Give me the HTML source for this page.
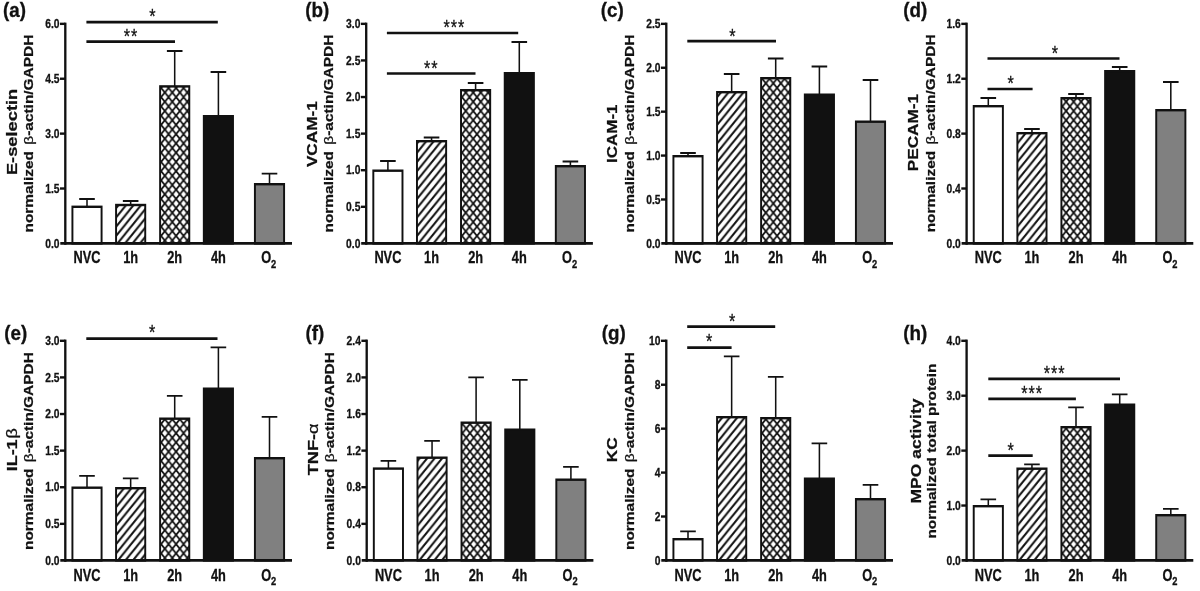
<!DOCTYPE html>
<html lang="en"><head><meta charset="utf-8"><title>Figure</title>
<style>html,body{margin:0;padding:0;background:#fff;overflow:hidden}svg{display:block;filter:blur(0.4px)}text{font-family:"Liberation Sans", sans-serif;font-weight:bold;fill:#111;stroke:#111;stroke-width:0.3px}.r{font-weight:normal}</style></head><body>
<svg width="1200" height="591" viewBox="0 0 1200 591">
<defs>
<pattern id="hatch" patternUnits="userSpaceOnUse" width="9.25" height="9.25"><rect width="9.25" height="9.25" fill="#fff"/><path d="M-2,11.25 L11.25,-2 M-2,2 L2,-2 M7.25,11.25 L11.25,7.25" stroke="#111" stroke-width="2.25" fill="none"/></pattern>
<pattern id="cross" patternUnits="userSpaceOnUse" width="9.25" height="9.25"><rect width="9.25" height="9.25" fill="#fff"/><path d="M-1,-1 L10.25,10.25 M-1,10.25 L10.25,-1" stroke="#111" stroke-width="2.0" fill="none"/></pattern>
</defs>
<rect width="1200" height="591" fill="#fff"/>
<text transform="translate(3,17.2) scale(0.97,1)" font-size="19.4">(a)</text>
<g transform="translate(0,0) scale(0.81,1)">
<text transform="translate(20.86,131.9) rotate(-90)" text-anchor="middle" font-size="18.3">E-selectin</text>
<text transform="translate(40.74,133.6) rotate(-90)" text-anchor="middle" font-size="15.45"><tspan>normalized </tspan><tspan class="r" dx="2">β</tspan><tspan>-actin/GAPDH</tspan></text>
<path d="M107.41,206.8 V199 M97.78,199 H117.04" stroke="#111" stroke-width="1.9" fill="none"/>
<rect x="89.41" y="206.8" width="36" height="36.6" fill="#fff" stroke="#111" stroke-width="2.4"/>
<path d="M161.3,205 V201 M151.67,201 H170.93" stroke="#111" stroke-width="1.9" fill="none"/>
<rect x="143.3" y="205" width="36" height="38.4" fill="url(#hatch)" stroke="#111" stroke-width="2.4"/>
<path d="M215.68,86.4 V51 M206.05,51 H225.31" stroke="#111" stroke-width="1.9" fill="none"/>
<rect x="197.68" y="86.4" width="36" height="157" fill="url(#cross)" stroke="#111" stroke-width="2.4"/>
<path d="M269.63,116.2 V72 M260,72 H279.26" stroke="#111" stroke-width="1.9" fill="none"/>
<rect x="251.63" y="116.2" width="36" height="127.2" fill="#111" stroke="#111" stroke-width="2.4"/>
<path d="M332.72,184.2 V173.6 M323.09,173.6 H342.35" stroke="#111" stroke-width="1.9" fill="none"/>
<rect x="314.72" y="184.2" width="36" height="59.2" fill="#808080" stroke="#111" stroke-width="2.4"/>
<path d="M80.62,22.65 V244.8" stroke="#111" stroke-width="2.9" fill="none"/>
<path d="M74.44,243.4 H360.49" stroke="#111" stroke-width="2.8" fill="none"/>
<path d="M74.07,23.85 H80.62" stroke="#111" stroke-width="2.4" fill="none"/>
<text transform="translate(73.46,28.05) scale(0.955,1)" text-anchor="end" font-size="13.3">6.0</text>
<path d="M74.07,78.74 H80.62" stroke="#111" stroke-width="2.4" fill="none"/>
<text transform="translate(73.46,82.94) scale(0.955,1)" text-anchor="end" font-size="13.3">4.5</text>
<path d="M74.07,133.62 H80.62" stroke="#111" stroke-width="2.4" fill="none"/>
<text transform="translate(73.46,137.82) scale(0.955,1)" text-anchor="end" font-size="13.3">3.0</text>
<path d="M74.07,188.51 H80.62" stroke="#111" stroke-width="2.4" fill="none"/>
<text transform="translate(73.46,192.71) scale(0.955,1)" text-anchor="end" font-size="13.3">1.5</text>
<text transform="translate(73.46,247.6) scale(0.955,1)" text-anchor="end" font-size="13.3">0.0</text>
<text x="107.41" y="263.3" text-anchor="middle" font-size="15.8">NVC</text>
<text x="161.3" y="263.3" text-anchor="middle" font-size="15.8">1h</text>
<text x="215.68" y="263.3" text-anchor="middle" font-size="15.8">2h</text>
<text x="269.63" y="263.3" text-anchor="middle" font-size="15.8">4h</text>
<text x="331.73" y="263.3" text-anchor="middle" font-size="15.8">O<tspan font-size="11.5" dy="4.5">2</tspan></text>
<path d="M106.67,22.2 H268.89" stroke="#111" stroke-width="2.7" fill="none"/>
<text class="r" x="188.87" y="22.76" text-anchor="middle" font-size="20" letter-spacing="1.2">*</text>
<path d="M106.67,41.6 H216.05" stroke="#111" stroke-width="2.7" fill="none"/>
<text class="r" x="161.83" y="43.16" text-anchor="middle" font-size="20" letter-spacing="1.2">**</text>
</g>
<text transform="translate(305.3,17.2) scale(0.97,1)" font-size="19.4">(b)</text>
<g transform="translate(300.9,0) scale(0.81,1)">
<text transform="translate(19.88,134.15) rotate(-90)" text-anchor="middle" font-size="17.2">VCAM-1</text>
<text transform="translate(39.88,133.6) rotate(-90)" text-anchor="middle" font-size="15.45"><tspan>normalized </tspan><tspan class="r" dx="2">β</tspan><tspan>-actin/GAPDH</tspan></text>
<path d="M107.41,170.7 V161 M97.78,161 H117.04" stroke="#111" stroke-width="1.9" fill="none"/>
<rect x="89.41" y="170.7" width="36" height="72.7" fill="#fff" stroke="#111" stroke-width="2.4"/>
<path d="M161.3,141.2 V137.5 M151.67,137.5 H170.93" stroke="#111" stroke-width="1.9" fill="none"/>
<rect x="143.3" y="141.2" width="36" height="102.2" fill="url(#hatch)" stroke="#111" stroke-width="2.4"/>
<path d="M215.68,90.2 V83 M206.05,83 H225.31" stroke="#111" stroke-width="1.9" fill="none"/>
<rect x="197.68" y="90.2" width="36" height="153.2" fill="url(#cross)" stroke="#111" stroke-width="2.4"/>
<path d="M269.63,73.2 V42 M260,42 H279.26" stroke="#111" stroke-width="1.9" fill="none"/>
<rect x="251.63" y="73.2" width="36" height="170.2" fill="#111" stroke="#111" stroke-width="2.4"/>
<path d="M332.72,166.2 V161.5 M323.09,161.5 H342.35" stroke="#111" stroke-width="1.9" fill="none"/>
<rect x="314.72" y="166.2" width="36" height="77.2" fill="#808080" stroke="#111" stroke-width="2.4"/>
<path d="M80.62,22.65 V244.8" stroke="#111" stroke-width="2.9" fill="none"/>
<path d="M74.44,243.4 H360.49" stroke="#111" stroke-width="2.8" fill="none"/>
<path d="M74.07,23.85 H80.62" stroke="#111" stroke-width="2.4" fill="none"/>
<text transform="translate(73.46,28.05) scale(0.955,1)" text-anchor="end" font-size="13.3">3.0</text>
<path d="M74.07,60.44 H80.62" stroke="#111" stroke-width="2.4" fill="none"/>
<text transform="translate(73.46,64.64) scale(0.955,1)" text-anchor="end" font-size="13.3">2.5</text>
<path d="M74.07,97.03 H80.62" stroke="#111" stroke-width="2.4" fill="none"/>
<text transform="translate(73.46,101.23) scale(0.955,1)" text-anchor="end" font-size="13.3">2.0</text>
<path d="M74.07,133.63 H80.62" stroke="#111" stroke-width="2.4" fill="none"/>
<text transform="translate(73.46,137.83) scale(0.955,1)" text-anchor="end" font-size="13.3">1.5</text>
<path d="M74.07,170.22 H80.62" stroke="#111" stroke-width="2.4" fill="none"/>
<text transform="translate(73.46,174.42) scale(0.955,1)" text-anchor="end" font-size="13.3">1.0</text>
<path d="M74.07,206.81 H80.62" stroke="#111" stroke-width="2.4" fill="none"/>
<text transform="translate(73.46,211.01) scale(0.955,1)" text-anchor="end" font-size="13.3">0.5</text>
<text transform="translate(73.46,247.6) scale(0.955,1)" text-anchor="end" font-size="13.3">0.0</text>
<text x="107.41" y="263.3" text-anchor="middle" font-size="15.8">NVC</text>
<text x="161.3" y="263.3" text-anchor="middle" font-size="15.8">1h</text>
<text x="215.68" y="263.3" text-anchor="middle" font-size="15.8">2h</text>
<text x="269.63" y="263.3" text-anchor="middle" font-size="15.8">4h</text>
<text x="331.73" y="263.3" text-anchor="middle" font-size="15.8">O<tspan font-size="11.5" dy="4.5">2</tspan></text>
<path d="M106.17,33 H268.27" stroke="#111" stroke-width="2.7" fill="none"/>
<text class="r" x="189.49" y="34.26" text-anchor="middle" font-size="20" letter-spacing="1.2">***</text>
<path d="M106.17,73.5 H215.56" stroke="#111" stroke-width="2.7" fill="none"/>
<text class="r" x="161.09" y="74.76" text-anchor="middle" font-size="20" letter-spacing="1.2">**</text>
</g>
<text transform="translate(600.8,17.2) scale(0.97,1)" font-size="19.4">(c)</text>
<g transform="translate(601,0) scale(0.81,1)">
<text transform="translate(19.94,133.75) rotate(-90)" text-anchor="middle" font-size="17.0">ICAM-1</text>
<text transform="translate(40.74,133.6) rotate(-90)" text-anchor="middle" font-size="15.45"><tspan>normalized </tspan><tspan class="r" dx="2">β</tspan><tspan>-actin/GAPDH</tspan></text>
<path d="M107.41,156.2 V153 M97.78,153 H117.04" stroke="#111" stroke-width="1.9" fill="none"/>
<rect x="89.41" y="156.2" width="36" height="87.2" fill="#fff" stroke="#111" stroke-width="2.4"/>
<path d="M161.3,92.2 V74 M151.67,74 H170.93" stroke="#111" stroke-width="1.9" fill="none"/>
<rect x="143.3" y="92.2" width="36" height="151.2" fill="url(#hatch)" stroke="#111" stroke-width="2.4"/>
<path d="M215.68,78.2 V58.5 M206.05,58.5 H225.31" stroke="#111" stroke-width="1.9" fill="none"/>
<rect x="197.68" y="78.2" width="36" height="165.2" fill="url(#cross)" stroke="#111" stroke-width="2.4"/>
<path d="M269.63,94.7 V66.5 M260,66.5 H279.26" stroke="#111" stroke-width="1.9" fill="none"/>
<rect x="251.63" y="94.7" width="36" height="148.7" fill="#111" stroke="#111" stroke-width="2.4"/>
<path d="M332.72,121.7 V80 M323.09,80 H342.35" stroke="#111" stroke-width="1.9" fill="none"/>
<rect x="314.72" y="121.7" width="36" height="121.7" fill="#808080" stroke="#111" stroke-width="2.4"/>
<path d="M80.62,22.65 V244.8" stroke="#111" stroke-width="2.9" fill="none"/>
<path d="M74.44,243.4 H360.49" stroke="#111" stroke-width="2.8" fill="none"/>
<path d="M74.07,23.85 H80.62" stroke="#111" stroke-width="2.4" fill="none"/>
<text transform="translate(73.46,28.05) scale(0.955,1)" text-anchor="end" font-size="13.3">2.5</text>
<path d="M74.07,67.76 H80.62" stroke="#111" stroke-width="2.4" fill="none"/>
<text transform="translate(73.46,71.96) scale(0.955,1)" text-anchor="end" font-size="13.3">2.0</text>
<path d="M74.07,111.67 H80.62" stroke="#111" stroke-width="2.4" fill="none"/>
<text transform="translate(73.46,115.87) scale(0.955,1)" text-anchor="end" font-size="13.3">1.5</text>
<path d="M74.07,155.58 H80.62" stroke="#111" stroke-width="2.4" fill="none"/>
<text transform="translate(73.46,159.78) scale(0.955,1)" text-anchor="end" font-size="13.3">1.0</text>
<path d="M74.07,199.49 H80.62" stroke="#111" stroke-width="2.4" fill="none"/>
<text transform="translate(73.46,203.69) scale(0.955,1)" text-anchor="end" font-size="13.3">0.5</text>
<text transform="translate(73.46,247.6) scale(0.955,1)" text-anchor="end" font-size="13.3">0.0</text>
<text x="107.41" y="263.3" text-anchor="middle" font-size="15.8">NVC</text>
<text x="161.3" y="263.3" text-anchor="middle" font-size="15.8">1h</text>
<text x="215.68" y="263.3" text-anchor="middle" font-size="15.8">2h</text>
<text x="269.63" y="263.3" text-anchor="middle" font-size="15.8">4h</text>
<text x="331.73" y="263.3" text-anchor="middle" font-size="15.8">O<tspan font-size="11.5" dy="4.5">2</tspan></text>
<path d="M106.54,41.2 H216.05" stroke="#111" stroke-width="2.7" fill="none"/>
<text class="r" x="162.95" y="42.76" text-anchor="middle" font-size="20" letter-spacing="1.2">*</text>
</g>
<text transform="translate(903.2,17.2) scale(0.97,1)" font-size="19.4">(d)</text>
<g transform="translate(901.3,0) scale(0.81,1)">
<text transform="translate(20.49,132.6) rotate(-90)" text-anchor="middle" font-size="17.15">PECAM-1</text>
<text transform="translate(42.1,133.4) rotate(-90)" text-anchor="middle" font-size="15.45"><tspan>normalized </tspan><tspan class="r" dx="2">β</tspan><tspan>-actin/GAPDH</tspan></text>
<path d="M107.41,106.2 V98 M97.78,98 H117.04" stroke="#111" stroke-width="1.9" fill="none"/>
<rect x="89.41" y="106.2" width="36" height="137.2" fill="#fff" stroke="#111" stroke-width="2.4"/>
<path d="M161.3,133.2 V129 M151.67,129 H170.93" stroke="#111" stroke-width="1.9" fill="none"/>
<rect x="143.3" y="133.2" width="36" height="110.2" fill="url(#hatch)" stroke="#111" stroke-width="2.4"/>
<path d="M215.68,98.2 V94 M206.05,94 H225.31" stroke="#111" stroke-width="1.9" fill="none"/>
<rect x="197.68" y="98.2" width="36" height="145.2" fill="url(#cross)" stroke="#111" stroke-width="2.4"/>
<path d="M269.63,71.2 V67 M260,67 H279.26" stroke="#111" stroke-width="1.9" fill="none"/>
<rect x="251.63" y="71.2" width="36" height="172.2" fill="#111" stroke="#111" stroke-width="2.4"/>
<path d="M332.72,110.2 V82 M323.09,82 H342.35" stroke="#111" stroke-width="1.9" fill="none"/>
<rect x="314.72" y="110.2" width="36" height="133.2" fill="#808080" stroke="#111" stroke-width="2.4"/>
<path d="M80.62,22.65 V244.8" stroke="#111" stroke-width="2.9" fill="none"/>
<path d="M74.44,243.4 H360.49" stroke="#111" stroke-width="2.8" fill="none"/>
<path d="M74.07,23.85 H80.62" stroke="#111" stroke-width="2.4" fill="none"/>
<text transform="translate(73.46,28.05) scale(0.955,1)" text-anchor="end" font-size="13.3">1.6</text>
<path d="M74.07,78.74 H80.62" stroke="#111" stroke-width="2.4" fill="none"/>
<text transform="translate(73.46,82.94) scale(0.955,1)" text-anchor="end" font-size="13.3">1.2</text>
<path d="M74.07,133.62 H80.62" stroke="#111" stroke-width="2.4" fill="none"/>
<text transform="translate(73.46,137.82) scale(0.955,1)" text-anchor="end" font-size="13.3">0.8</text>
<path d="M74.07,188.51 H80.62" stroke="#111" stroke-width="2.4" fill="none"/>
<text transform="translate(73.46,192.71) scale(0.955,1)" text-anchor="end" font-size="13.3">0.4</text>
<text transform="translate(73.46,247.6) scale(0.955,1)" text-anchor="end" font-size="13.3">0.0</text>
<text x="107.41" y="263.3" text-anchor="middle" font-size="15.8">NVC</text>
<text x="161.3" y="263.3" text-anchor="middle" font-size="15.8">1h</text>
<text x="215.68" y="263.3" text-anchor="middle" font-size="15.8">2h</text>
<text x="269.63" y="263.3" text-anchor="middle" font-size="15.8">4h</text>
<text x="331.73" y="263.3" text-anchor="middle" font-size="15.8">O<tspan font-size="11.5" dy="4.5">2</tspan></text>
<path d="M106.42,58.5 H269.38" stroke="#111" stroke-width="2.7" fill="none"/>
<text class="r" x="190.35" y="60.26" text-anchor="middle" font-size="20" letter-spacing="1.2">*</text>
<path d="M106.42,89 H162.1" stroke="#111" stroke-width="2.7" fill="none"/>
<text class="r" x="135.54" y="90.26" text-anchor="middle" font-size="20" letter-spacing="1.2">*</text>
</g>
<text transform="translate(4.2,340) scale(0.97,1)" font-size="19.4">(e)</text>
<g transform="translate(0,317.5) scale(0.81,1)">
<text transform="translate(20.86,132.3) rotate(-90)" text-anchor="middle" font-size="18.0">IL-1<tspan class="r" dx="0.8">β</tspan></text>
<text transform="translate(40.74,133.6) rotate(-90)" text-anchor="middle" font-size="15.45"><tspan>normalized </tspan><tspan class="r" dx="2">β</tspan><tspan>-actin/GAPDH</tspan></text>
<path d="M107.41,170.2 V158.4 M97.78,158.4 H117.04" stroke="#111" stroke-width="1.9" fill="none"/>
<rect x="89.41" y="170.2" width="36" height="72.75" fill="#fff" stroke="#111" stroke-width="2.4"/>
<path d="M161.3,170.7 V160.9 M151.67,160.9 H170.93" stroke="#111" stroke-width="1.9" fill="none"/>
<rect x="143.3" y="170.7" width="36" height="72.25" fill="url(#hatch)" stroke="#111" stroke-width="2.4"/>
<path d="M215.68,101.2 V78.4 M206.05,78.4 H225.31" stroke="#111" stroke-width="1.9" fill="none"/>
<rect x="197.68" y="101.2" width="36" height="141.75" fill="url(#cross)" stroke="#111" stroke-width="2.4"/>
<path d="M269.63,71.2 V29.9 M260,29.9 H279.26" stroke="#111" stroke-width="1.9" fill="none"/>
<rect x="251.63" y="71.2" width="36" height="171.75" fill="#111" stroke="#111" stroke-width="2.4"/>
<path d="M332.72,140.7 V99.4 M323.09,99.4 H342.35" stroke="#111" stroke-width="1.9" fill="none"/>
<rect x="314.72" y="140.7" width="36" height="102.25" fill="#808080" stroke="#111" stroke-width="2.4"/>
<path d="M80.62,22.1 V244.35" stroke="#111" stroke-width="2.9" fill="none"/>
<path d="M74.44,242.95 H360.49" stroke="#111" stroke-width="2.8" fill="none"/>
<path d="M74.07,23.3 H80.62" stroke="#111" stroke-width="2.4" fill="none"/>
<text transform="translate(73.46,27.5) scale(0.955,1)" text-anchor="end" font-size="13.3">3.0</text>
<path d="M74.07,59.91 H80.62" stroke="#111" stroke-width="2.4" fill="none"/>
<text transform="translate(73.46,64.11) scale(0.955,1)" text-anchor="end" font-size="13.3">2.5</text>
<path d="M74.07,96.52 H80.62" stroke="#111" stroke-width="2.4" fill="none"/>
<text transform="translate(73.46,100.72) scale(0.955,1)" text-anchor="end" font-size="13.3">2.0</text>
<path d="M74.07,133.12 H80.62" stroke="#111" stroke-width="2.4" fill="none"/>
<text transform="translate(73.46,137.32) scale(0.955,1)" text-anchor="end" font-size="13.3">1.5</text>
<path d="M74.07,169.73 H80.62" stroke="#111" stroke-width="2.4" fill="none"/>
<text transform="translate(73.46,173.93) scale(0.955,1)" text-anchor="end" font-size="13.3">1.0</text>
<path d="M74.07,206.34 H80.62" stroke="#111" stroke-width="2.4" fill="none"/>
<text transform="translate(73.46,210.54) scale(0.955,1)" text-anchor="end" font-size="13.3">0.5</text>
<text transform="translate(73.46,247.15) scale(0.955,1)" text-anchor="end" font-size="13.3">0.0</text>
<text x="107.41" y="263.3" text-anchor="middle" font-size="15.8">NVC</text>
<text x="161.3" y="263.3" text-anchor="middle" font-size="15.8">1h</text>
<text x="215.68" y="263.3" text-anchor="middle" font-size="15.8">2h</text>
<text x="269.63" y="263.3" text-anchor="middle" font-size="15.8">4h</text>
<text x="331.73" y="263.3" text-anchor="middle" font-size="15.8">O<tspan font-size="11.5" dy="4.5">2</tspan></text>
<path d="M106.54,21.2 H268.52" stroke="#111" stroke-width="2.7" fill="none"/>
<text class="r" x="188.5" y="21.76" text-anchor="middle" font-size="20" letter-spacing="1.2">*</text>
</g>
<text transform="translate(305.4,340) scale(0.97,1)" font-size="19.4">(f)</text>
<g transform="translate(301.4,317.5) scale(0.81,1)">
<text transform="translate(20,131.9) rotate(-90)" text-anchor="middle" font-size="18.2">TNF-<tspan class="r">α</tspan></text>
<text transform="translate(39.88,133.6) rotate(-90)" text-anchor="middle" font-size="15.45"><tspan>normalized </tspan><tspan class="r" dx="2">β</tspan><tspan>-actin/GAPDH</tspan></text>
<path d="M107.41,151.1 V143.4 M97.78,143.4 H117.04" stroke="#111" stroke-width="1.9" fill="none"/>
<rect x="89.41" y="151.1" width="36" height="91.85" fill="#fff" stroke="#111" stroke-width="2.4"/>
<path d="M161.3,140.2 V123.4 M151.67,123.4 H170.93" stroke="#111" stroke-width="1.9" fill="none"/>
<rect x="143.3" y="140.2" width="36" height="102.75" fill="url(#hatch)" stroke="#111" stroke-width="2.4"/>
<path d="M215.68,105.2 V59.9 M206.05,59.9 H225.31" stroke="#111" stroke-width="1.9" fill="none"/>
<rect x="197.68" y="105.2" width="36" height="137.75" fill="url(#cross)" stroke="#111" stroke-width="2.4"/>
<path d="M269.63,112.2 V62.4 M260,62.4 H279.26" stroke="#111" stroke-width="1.9" fill="none"/>
<rect x="251.63" y="112.2" width="36" height="130.75" fill="#111" stroke="#111" stroke-width="2.4"/>
<path d="M332.72,162.2 V149.4 M323.09,149.4 H342.35" stroke="#111" stroke-width="1.9" fill="none"/>
<rect x="314.72" y="162.2" width="36" height="80.75" fill="#808080" stroke="#111" stroke-width="2.4"/>
<path d="M80.62,22.1 V244.35" stroke="#111" stroke-width="2.9" fill="none"/>
<path d="M74.44,242.95 H360.49" stroke="#111" stroke-width="2.8" fill="none"/>
<path d="M74.07,23.3 H80.62" stroke="#111" stroke-width="2.4" fill="none"/>
<text transform="translate(73.46,27.5) scale(0.955,1)" text-anchor="end" font-size="13.3">2.4</text>
<path d="M74.07,59.91 H80.62" stroke="#111" stroke-width="2.4" fill="none"/>
<text transform="translate(73.46,64.11) scale(0.955,1)" text-anchor="end" font-size="13.3">2.0</text>
<path d="M74.07,96.52 H80.62" stroke="#111" stroke-width="2.4" fill="none"/>
<text transform="translate(73.46,100.72) scale(0.955,1)" text-anchor="end" font-size="13.3">1.6</text>
<path d="M74.07,133.12 H80.62" stroke="#111" stroke-width="2.4" fill="none"/>
<text transform="translate(73.46,137.32) scale(0.955,1)" text-anchor="end" font-size="13.3">1.2</text>
<path d="M74.07,169.73 H80.62" stroke="#111" stroke-width="2.4" fill="none"/>
<text transform="translate(73.46,173.93) scale(0.955,1)" text-anchor="end" font-size="13.3">0.8</text>
<path d="M74.07,206.34 H80.62" stroke="#111" stroke-width="2.4" fill="none"/>
<text transform="translate(73.46,210.54) scale(0.955,1)" text-anchor="end" font-size="13.3">0.4</text>
<text transform="translate(73.46,247.15) scale(0.955,1)" text-anchor="end" font-size="13.3">0.0</text>
<text x="107.41" y="263.3" text-anchor="middle" font-size="15.8">NVC</text>
<text x="161.3" y="263.3" text-anchor="middle" font-size="15.8">1h</text>
<text x="215.68" y="263.3" text-anchor="middle" font-size="15.8">2h</text>
<text x="269.63" y="263.3" text-anchor="middle" font-size="15.8">4h</text>
<text x="331.73" y="263.3" text-anchor="middle" font-size="15.8">O<tspan font-size="11.5" dy="4.5">2</tspan></text>
</g>
<text transform="translate(601.7,340) scale(0.97,1)" font-size="19.4">(g)</text>
<g transform="translate(601,317.5) scale(0.81,1)">
<text transform="translate(20.25,132.3) rotate(-90)" text-anchor="middle" font-size="17.2">KC</text>
<text transform="translate(40.74,133.6) rotate(-90)" text-anchor="middle" font-size="15.45"><tspan>normalized </tspan><tspan class="r" dx="2">β</tspan><tspan>-actin/GAPDH</tspan></text>
<path d="M107.41,221.7 V213.9 M97.78,213.9 H117.04" stroke="#111" stroke-width="1.9" fill="none"/>
<rect x="89.41" y="221.7" width="36" height="21.25" fill="#fff" stroke="#111" stroke-width="2.4"/>
<path d="M161.3,99.7 V38.9 M151.67,38.9 H170.93" stroke="#111" stroke-width="1.9" fill="none"/>
<rect x="143.3" y="99.7" width="36" height="143.25" fill="url(#hatch)" stroke="#111" stroke-width="2.4"/>
<path d="M215.68,100.7 V59.4 M206.05,59.4 H225.31" stroke="#111" stroke-width="1.9" fill="none"/>
<rect x="197.68" y="100.7" width="36" height="142.25" fill="url(#cross)" stroke="#111" stroke-width="2.4"/>
<path d="M269.63,161.2 V125.9 M260,125.9 H279.26" stroke="#111" stroke-width="1.9" fill="none"/>
<rect x="251.63" y="161.2" width="36" height="81.75" fill="#111" stroke="#111" stroke-width="2.4"/>
<path d="M332.72,181.7 V167.4 M323.09,167.4 H342.35" stroke="#111" stroke-width="1.9" fill="none"/>
<rect x="314.72" y="181.7" width="36" height="61.25" fill="#808080" stroke="#111" stroke-width="2.4"/>
<path d="M80.62,22.1 V244.35" stroke="#111" stroke-width="2.9" fill="none"/>
<path d="M74.44,242.95 H360.49" stroke="#111" stroke-width="2.8" fill="none"/>
<path d="M74.07,23.3 H80.62" stroke="#111" stroke-width="2.4" fill="none"/>
<text transform="translate(73.46,27.5) scale(0.955,1)" text-anchor="end" font-size="13.3">10</text>
<path d="M74.07,67.23 H80.62" stroke="#111" stroke-width="2.4" fill="none"/>
<text transform="translate(73.46,71.43) scale(0.955,1)" text-anchor="end" font-size="13.3">8</text>
<path d="M74.07,111.16 H80.62" stroke="#111" stroke-width="2.4" fill="none"/>
<text transform="translate(73.46,115.36) scale(0.955,1)" text-anchor="end" font-size="13.3">6</text>
<path d="M74.07,155.09 H80.62" stroke="#111" stroke-width="2.4" fill="none"/>
<text transform="translate(73.46,159.29) scale(0.955,1)" text-anchor="end" font-size="13.3">4</text>
<path d="M74.07,199.02 H80.62" stroke="#111" stroke-width="2.4" fill="none"/>
<text transform="translate(73.46,203.22) scale(0.955,1)" text-anchor="end" font-size="13.3">2</text>
<text transform="translate(73.46,247.15) scale(0.955,1)" text-anchor="end" font-size="13.3">0</text>
<text x="107.41" y="263.3" text-anchor="middle" font-size="15.8">NVC</text>
<text x="161.3" y="263.3" text-anchor="middle" font-size="15.8">1h</text>
<text x="215.68" y="263.3" text-anchor="middle" font-size="15.8">2h</text>
<text x="269.63" y="263.3" text-anchor="middle" font-size="15.8">4h</text>
<text x="331.73" y="263.3" text-anchor="middle" font-size="15.8">O<tspan font-size="11.5" dy="4.5">2</tspan></text>
<path d="M106.42,9.2 H215.06" stroke="#111" stroke-width="2.7" fill="none"/>
<text class="r" x="162.58" y="10.26" text-anchor="middle" font-size="20" letter-spacing="1.2">*</text>
<path d="M106.42,30.1 H161.23" stroke="#111" stroke-width="2.7" fill="none"/>
<text class="r" x="134.18" y="30.26" text-anchor="middle" font-size="20" letter-spacing="1.2">*</text>
</g>
<text transform="translate(903.3,340) scale(0.97,1)" font-size="19.4">(h)</text>
<g transform="translate(901.3,317.5) scale(0.81,1)">
<text transform="translate(24.07,133.5) rotate(-90)" text-anchor="middle" font-size="17.5">MPO activity</text>
<text transform="translate(43.33,133.6) rotate(-90)" text-anchor="middle" font-size="15.45"><tspan>normalized total protein</tspan></text>
<path d="M107.41,188.7 V181.9 M97.78,181.9 H117.04" stroke="#111" stroke-width="1.9" fill="none"/>
<rect x="89.41" y="188.7" width="36" height="54.25" fill="#fff" stroke="#111" stroke-width="2.4"/>
<path d="M161.3,151.2 V146.9 M151.67,146.9 H170.93" stroke="#111" stroke-width="1.9" fill="none"/>
<rect x="143.3" y="151.2" width="36" height="91.75" fill="url(#hatch)" stroke="#111" stroke-width="2.4"/>
<path d="M215.68,109.7 V89.9 M206.05,89.9 H225.31" stroke="#111" stroke-width="1.9" fill="none"/>
<rect x="197.68" y="109.7" width="36" height="133.25" fill="url(#cross)" stroke="#111" stroke-width="2.4"/>
<path d="M269.63,87.2 V76.9 M260,76.9 H279.26" stroke="#111" stroke-width="1.9" fill="none"/>
<rect x="251.63" y="87.2" width="36" height="155.75" fill="#111" stroke="#111" stroke-width="2.4"/>
<path d="M332.72,197.7 V191.4 M323.09,191.4 H342.35" stroke="#111" stroke-width="1.9" fill="none"/>
<rect x="314.72" y="197.7" width="36" height="45.25" fill="#808080" stroke="#111" stroke-width="2.4"/>
<path d="M80.62,22.1 V244.35" stroke="#111" stroke-width="2.9" fill="none"/>
<path d="M74.44,242.95 H360.49" stroke="#111" stroke-width="2.8" fill="none"/>
<path d="M74.07,23.3 H80.62" stroke="#111" stroke-width="2.4" fill="none"/>
<text transform="translate(73.46,27.5) scale(0.955,1)" text-anchor="end" font-size="13.3">4.0</text>
<path d="M74.07,78.21 H80.62" stroke="#111" stroke-width="2.4" fill="none"/>
<text transform="translate(73.46,82.41) scale(0.955,1)" text-anchor="end" font-size="13.3">3.0</text>
<path d="M74.07,133.12 H80.62" stroke="#111" stroke-width="2.4" fill="none"/>
<text transform="translate(73.46,137.32) scale(0.955,1)" text-anchor="end" font-size="13.3">2.0</text>
<path d="M74.07,188.04 H80.62" stroke="#111" stroke-width="2.4" fill="none"/>
<text transform="translate(73.46,192.24) scale(0.955,1)" text-anchor="end" font-size="13.3">1.0</text>
<text transform="translate(73.46,247.15) scale(0.955,1)" text-anchor="end" font-size="13.3">0.0</text>
<text x="107.41" y="263.3" text-anchor="middle" font-size="15.8">NVC</text>
<text x="161.3" y="263.3" text-anchor="middle" font-size="15.8">1h</text>
<text x="215.68" y="263.3" text-anchor="middle" font-size="15.8">2h</text>
<text x="269.63" y="263.3" text-anchor="middle" font-size="15.8">4h</text>
<text x="331.73" y="263.3" text-anchor="middle" font-size="15.8">O<tspan font-size="11.5" dy="4.5">2</tspan></text>
<path d="M107.41,61.4 H270" stroke="#111" stroke-width="2.7" fill="none"/>
<text class="r" x="189.37" y="62.96" text-anchor="middle" font-size="20" letter-spacing="1.2">***</text>
<path d="M107.41,81.4 H215.56" stroke="#111" stroke-width="2.7" fill="none"/>
<text class="r" x="161.59" y="82.96" text-anchor="middle" font-size="20" letter-spacing="1.2">***</text>
<path d="M107.41,138.1 H162.22" stroke="#111" stroke-width="2.7" fill="none"/>
<text class="r" x="135.54" y="139.56" text-anchor="middle" font-size="20" letter-spacing="1.2">*</text>
</g>
</svg></body></html>
